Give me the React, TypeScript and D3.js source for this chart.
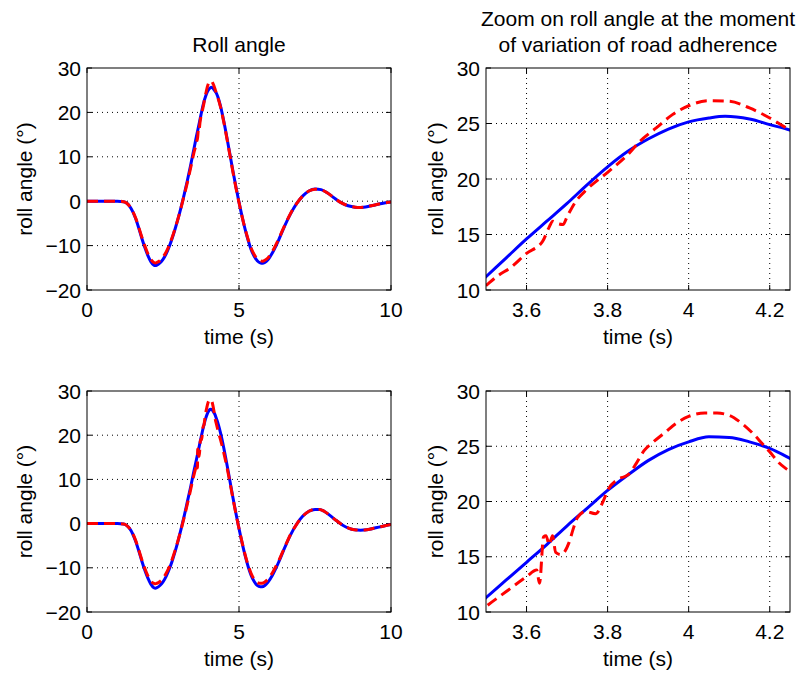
import React from 'react';
import * as d3 from 'd3';

// ---------- data ----------
const timeTopBlue = [0, 0.5, 1.0, 1.2, 1.3, 1.4, 1.5, 1.6, 1.7, 1.8, 1.9, 2.0, 2.1, 2.2, 2.25, 2.3, 2.4, 2.5, 2.6, 2.7, 2.8, 2.9, 3.0, 3.1, 3.2, 3.3, 3.4, 3.5, 3.55, 3.6, 3.65, 3.7, 3.75, 3.8, 3.85, 3.9, 3.95, 4.0, 4.05, 4.09, 4.15, 4.2, 4.25, 4.3, 4.4, 4.5, 4.6, 4.7, 4.8, 4.9, 5.0, 5.1, 5.2, 5.3, 5.4, 5.5, 5.6, 5.7, 5.78, 5.85, 5.95, 6.1, 6.3, 6.5, 6.7, 6.9, 7.1, 7.3, 7.5, 7.7, 7.9, 8.1, 8.3, 8.5, 8.7, 8.9, 9.1, 9.3, 9.5, 9.7, 10];
const rollTopBlue = [0, 0, 0, -0.1, -0.4, -1.1, -2.3, -3.9, -6.0, -8.3, -10.4, -12.2, -13.6, -14.4, -14.5, -14.4, -13.9, -13.1, -11.9, -10.3, -8.4, -6.2, -3.8, -1.2, 1.6, 4.6, 7.8, 11.2, 12.9, 14.6, 16.2, 17.8, 19.5, 21.1, 22.5, 23.6, 24.5, 25.15, 25.5, 25.65, 25.4, 24.9, 24.4, 23.6, 21.2, 18.0, 14.4, 10.6, 6.8, 3.2, -0.2, -3.4, -6.3, -8.8, -10.9, -12.4, -13.4, -13.9, -14.0, -13.8, -13.2, -11.6, -8.8, -5.6, -2.8, -0.5, 1.2, 2.3, 2.75, 2.6, 1.9, 0.9, -0.1, -0.8, -1.2, -1.4, -1.35, -1.1, -0.8, -0.5, -0.2];

const timeTopRed = [0, 0.5, 1.0, 1.2, 1.3, 1.4, 1.5, 1.6, 1.7, 1.8, 1.9, 2.0, 2.1, 2.2, 2.25, 2.3, 2.4, 2.5, 2.6, 2.7, 2.8, 2.9, 3.0, 3.1, 3.2, 3.3, 3.4, 3.5, 3.53, 3.56, 3.6, 3.64, 3.655, 3.665, 3.675, 3.69, 3.7, 3.72, 3.75, 3.8, 3.85, 3.88, 3.92, 3.96, 4.0, 4.05, 4.1, 4.15, 4.2, 4.25, 4.3, 4.4, 4.5, 4.6, 4.7, 4.8, 4.9, 5.0, 5.1, 5.2, 5.3, 5.4, 5.5, 5.6, 5.7, 5.78, 5.85, 5.95, 6.1, 6.3, 6.5, 6.7, 6.9, 7.1, 7.3, 7.5, 7.7, 7.9, 8.1, 8.3, 8.5, 8.7, 8.9, 9.1, 9.3, 9.5, 9.7, 10];
const rollTopRed = [0, 0, 0, -0.1, -0.4, -1.1, -2.2, -3.8, -5.8, -8.0, -10.0, -11.8, -13.1, -13.8, -13.9, -13.8, -13.4, -12.6, -11.5, -10.0, -8.2, -6.1, -3.8, -1.3, 1.4, 4.2, 7.2, 10.4, 11.3, 12.0, 13.3, 14.4, 15.6, 16.2, 16.0, 15.9, 16.6, 17.9, 19.1, 20.6, 22.2, 23.4, 24.6, 25.8, 26.6, 27.05, 27.0, 26.4, 25.5, 24.4, 23.4, 21.0, 17.8, 14.2, 10.4, 6.6, 3.0, -0.3, -3.4, -6.2, -8.6, -10.6, -12.0, -13.0, -13.4, -13.5, -13.3, -12.8, -11.3, -8.6, -5.5, -2.7, -0.5, 1.2, 2.3, 2.7, 2.55, 1.9, 0.9, -0.1, -0.8, -1.2, -1.4, -1.35, -1.1, -0.8, -0.5, -0.2];

const timeBottomBlue = [0, 0.5, 1.0, 1.2, 1.3, 1.4, 1.5, 1.6, 1.7, 1.8, 1.9, 2.0, 2.1, 2.2, 2.25, 2.3, 2.4, 2.5, 2.6, 2.7, 2.8, 2.9, 3.0, 3.1, 3.2, 3.3, 3.4, 3.5, 3.55, 3.6, 3.65, 3.7, 3.75, 3.8, 3.85, 3.9, 3.95, 4.0, 4.05, 4.1, 4.15, 4.2, 4.25, 4.3, 4.4, 4.5, 4.6, 4.7, 4.8, 4.9, 5.0, 5.1, 5.2, 5.3, 5.4, 5.5, 5.6, 5.7, 5.76, 5.85, 5.95, 6.1, 6.3, 6.5, 6.7, 6.9, 7.1, 7.3, 7.5, 7.65, 7.8, 8.0, 8.2, 8.4, 8.6, 8.8, 9.0, 9.2, 9.4, 9.6, 9.8, 10];
const rollBottomBlue = [0, 0, 0, -0.1, -0.4, -1.1, -2.3, -4.0, -6.1, -8.4, -10.5, -12.3, -13.7, -14.5, -14.6, -14.5, -14.0, -13.2, -12.0, -10.4, -8.5, -6.3, -3.8, -1.1, 1.8, 4.9, 8.0, 11.3, 12.9, 14.5, 16.1, 17.8, 19.4, 21.0, 22.4, 23.7, 24.7, 25.4, 25.85, 25.8, 25.4, 24.8, 23.9, 22.9, 20.3, 17.1, 13.5, 9.7, 5.9, 2.3, -1.1, -4.3, -7.2, -9.7, -11.7, -13.1, -14.0, -14.3, -14.3, -14.0, -13.3, -11.7, -8.8, -5.5, -2.5, -0.1, 1.7, 2.8, 3.2, 3.2, 2.8, 1.8, 0.7, -0.3, -1.0, -1.4, -1.5, -1.4, -1.1, -0.8, -0.5, -0.2];

const timeBottomRed = [0, 0.5, 1.0, 1.2, 1.3, 1.4, 1.5, 1.6, 1.7, 1.8, 1.9, 2.0, 2.1, 2.2, 2.25, 2.3, 2.4, 2.5, 2.6, 2.7, 2.8, 2.9, 3.0, 3.1, 3.2, 3.3, 3.4, 3.5, 3.55, 3.6, 3.625, 3.632, 3.642, 3.648, 3.656, 3.664, 3.672, 3.685, 3.705, 3.715, 3.725, 3.745, 3.77, 3.79, 3.8, 3.825, 3.85, 3.87, 3.89, 3.91, 3.94, 3.97, 4.0, 4.04, 4.07, 4.1, 4.13, 4.16, 4.18, 4.2, 4.22, 4.25, 4.3, 4.4, 4.5, 4.6, 4.7, 4.8, 4.9, 5.0, 5.1, 5.2, 5.3, 5.4, 5.5, 5.6, 5.7, 5.76, 5.85, 5.95, 6.1, 6.3, 6.5, 6.7, 6.9, 7.1, 7.3, 7.5, 7.65, 7.8, 8.0, 8.2, 8.4, 8.6, 8.8, 9.0, 9.2, 9.4, 9.6, 9.8, 10];
const rollBottomRed = [0, 0, 0, -0.1, -0.4, -1.1, -2.2, -3.8, -5.9, -8.1, -10.1, -11.8, -13.0, -13.5, -13.6, -13.5, -13.1, -12.4, -11.3, -9.9, -8.1, -6.0, -3.7, -1.2, 1.5, 4.4, 7.4, 10.5, 11.85, 13.2, 13.8, 12.6, 16.8, 16.9, 16.1, 16.9, 15.4, 15.2, 16.3, 17.5, 18.5, 19.1, 18.9, 20.1, 21.0, 22.0, 22.4, 23.4, 24.6, 25.3, 26.2, 27.1, 27.7, 28.0, 28.0, 27.8, 27.1, 26.1, 25.3, 24.5, 23.6, 22.7, 21.3, 18.8, 16.0, 12.9, 9.4, 5.7, 2.2, -1.1, -4.2, -7.0, -9.4, -11.3, -12.6, -13.3, -13.5, -13.5, -13.2, -12.6, -11.1, -8.5, -5.4, -2.4, -0.1, 1.7, 2.8, 3.2, 3.2, 2.8, 1.8, 0.7, -0.3, -1.0, -1.4, -1.5, -1.4, -1.1, -0.8, -0.5, -0.2];

const fullXTicks = [0, 5, 10];
const fullYTicks = [-20, -10, 0, 10, 20, 30];
const zoomXTicks = [3.6, 3.8, 4, 4.2];
const zoomYTicks = [10, 15, 20, 25, 30];
const fullXDomain: [number, number] = [0, 10];
const fullYDomain: [number, number] = [-20, 30];
const zoomXDomain: [number, number] = [3.5, 4.25];
const zoomYDomain: [number, number] = [10, 30];

const xLabel = 'time (s)';
const yLabel = 'roll angle (°)';
const leftTitle = ['Roll angle'];
const rightTitle = ['Zoom on roll angle at the moment', 'of variation of road adherence'];

// ---------- drawing ----------
const FONT = '"Liberation Sans", Arial, Helvetica, sans-serif';
const FS = 21;

const zip = (t: number[], v: number[]) => t.map((d, i) => [d, v[i]] as [number, number]);
const fmt = (v: number) => (v < 0 ? '\u2212' + String(Math.abs(v)) : String(v));

type PanelProps = {
  id: string;
  left: number; top: number; width: number; height: number;
  xDomain: [number, number]; yDomain: [number, number];
  xTicks: number[]; yTicks: number[];
  blue: [number, number][]; red: [number, number][];
  title?: string[];
  labelX: number;
};

function Panel(p: PanelProps) {
  const x = d3.scaleLinear().domain(p.xDomain).range([p.left, p.left + p.width]);
  const y = d3.scaleLinear().domain(p.yDomain).range([p.top + p.height, p.top]);
  const line = d3.line<[number, number]>().x(d => x(d[0])).y(d => y(d[1])).curve(d3.curveMonotoneX);
  const bottom = p.top + p.height;
  const right = p.left + p.width;
  const tl = 5;
  const inside = (v: number, dom: [number, number]) => v > dom[0] + 1e-9 && v < dom[1] - 1e-9;
  return (
    <g>
      <defs>
        <clipPath id={p.id}>
          <rect x={p.left} y={p.top} width={p.width} height={p.height} />
        </clipPath>
      </defs>
      <rect x={p.left} y={p.top} width={p.width} height={p.height} fill="#fff" />
      {/* grid */}
      {p.xTicks.filter(v => inside(v, p.xDomain)).map(v => (
        <line key={'gx' + v} x1={x(v)} x2={x(v)} y1={p.top} y2={bottom} stroke="#000" strokeWidth={1} strokeDasharray="1 4" />
      ))}
      {p.yTicks.filter(v => inside(v, p.yDomain)).map(v => (
        <line key={'gy' + v} x1={p.left} x2={right} y1={y(v)} y2={y(v)} stroke="#000" strokeWidth={1} strokeDasharray="1 4" />
      ))}
      {/* ticks */}
      {p.xTicks.map(v => (
        <g key={'tx' + v}>
          <line x1={x(v)} x2={x(v)} y1={bottom} y2={bottom - tl} stroke="#000" />
          <line x1={x(v)} x2={x(v)} y1={p.top} y2={p.top + tl} stroke="#000" />
          <text x={x(v)} y={bottom + 27} textAnchor="middle" fontFamily={FONT} fontSize={FS}>{fmt(v)}</text>
        </g>
      ))}
      {p.yTicks.map(v => (
        <g key={'ty' + v}>
          <line x1={p.left} x2={p.left + tl} y1={y(v)} y2={y(v)} stroke="#000" />
          <line x1={right} x2={right - tl} y1={y(v)} y2={y(v)} stroke="#000" />
          <text x={p.left - 6} y={y(v) + 7.5} textAnchor="end" fontFamily={FONT} fontSize={FS}>{fmt(v)}</text>
        </g>
      ))}
      {/* data */}
      <g clipPath={`url(#${p.id})`}>
        <path d={line(p.blue) || ''} fill="none" stroke="#0000ff" strokeWidth={3} strokeLinejoin="round" />
        <path d={line(p.red) || ''} fill="none" stroke="#ff0000" strokeWidth={3} strokeDasharray="11 6" />
      </g>
      <rect x={p.left} y={p.top} width={p.width} height={p.height} fill="none" stroke="#000" strokeWidth={1} />
      {/* labels */}
      <text x={(p.left + right) / 2} y={bottom + 54} textAnchor="middle" fontFamily={FONT} fontSize={FS}>{xLabel}</text>
      <text transform={`translate(${p.labelX},${(p.top + bottom) / 2}) rotate(-90)`} textAnchor="middle" fontFamily={FONT} fontSize={FS}>{yLabel}</text>
      {p.title && p.title.map((s, i) => (
        <text key={'tt' + i} x={(p.left + right) / 2} y={p.top - 16 - (p.title!.length - 1 - i) * 26} textAnchor="middle" fontFamily={FONT} fontSize={FS}>{s}</text>
      ))}
    </g>
  );
}

export default function App() {
  const topBlue = zip(timeTopBlue, rollTopBlue);
  const topRed = zip(timeTopRed, rollTopRed);
  const botBlue = zip(timeBottomBlue, rollBottomBlue);
  const botRed = zip(timeBottomRed, rollBottomRed);
  return (
    <svg width={801} height={673} style={{ position: 'absolute', left: 0, top: 0, background: '#fff' }}>
      <rect width={801} height={673} fill="#fff" />
      <Panel id="c1" left={87} top={68} width={304} height={222} xDomain={fullXDomain} yDomain={fullYDomain}
        xTicks={fullXTicks} yTicks={fullYTicks} blue={topBlue} red={topRed} title={leftTitle} labelX={32} />
      <Panel id="c2" left={486} top={68} width={304} height={222} xDomain={zoomXDomain} yDomain={zoomYDomain}
        xTicks={zoomXTicks} yTicks={zoomYTicks} blue={topBlue} red={topRed} title={rightTitle} labelX={443} />
      <Panel id="c3" left={87} top={391} width={304} height={221} xDomain={fullXDomain} yDomain={fullYDomain}
        xTicks={fullXTicks} yTicks={fullYTicks} blue={botBlue} red={botRed} labelX={32} />
      <Panel id="c4" left={486} top={391} width={304} height={221} xDomain={zoomXDomain} yDomain={zoomYDomain}
        xTicks={zoomXTicks} yTicks={zoomYTicks} blue={botBlue} red={botRed} labelX={443} />
    </svg>
  );
}
